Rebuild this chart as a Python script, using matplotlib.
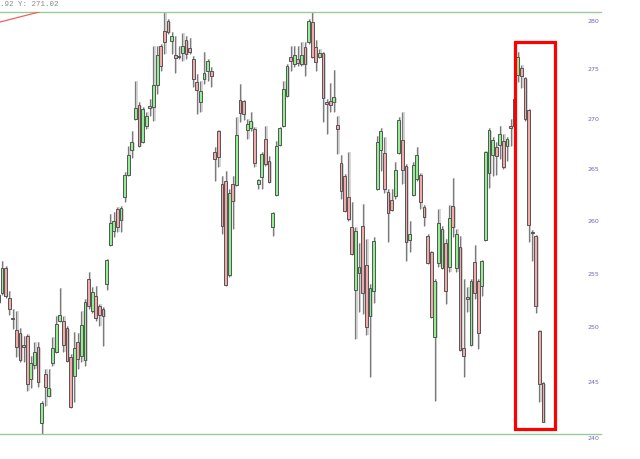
import matplotlib.pyplot as plt
from matplotlib.patches import Rectangle
from matplotlib.ticker import NullLocator
import matplotlib.transforms as mtransforms
import numpy as np

# daily OHLC, oldest first (first candle is cut off at the left edge)
opens = [252.28, 253.12, 255.47, 252.65, 250.79, 249.68, 249.40, 248.30, 249.13, 245.20,
         246.47, 248.11, 241.24, 245.66, 243.66, 246.66, 247.66, 250.52, 250.52, 249.86,
         247.20, 245.47, 248.57, 247.29, 246.93, 254.43, 251.44, 252.84, 251.91, 251.63,
         253.96, 257.65, 258.99, 261.10, 260.04, 262.26, 264.41, 266.86, 269.94, 271.34,
         267.65, 269.24, 271.04, 271.14, 273.35, 277.32, 278.86, 279.90, 277.83, 276.40,
         276.19, 276.60, 277.94, 277.11, 275.99, 273.66, 271.64, 273.96, 274.77, 274.77,
         266.66, 268.74, 263.53, 263.82, 254.81, 263.53, 263.43, 271.84, 271.74, 268.84,
         269.04, 268.94, 263.53, 264.21, 267.95, 265.78, 259.37, 262.46, 267.36, 269.24,
         272.24, 276.19, 275.48, 275.99, 275.48, 277.22, 277.73, 279.79, 277.22, 276.19,
         276.60, 271.64, 271.74, 271.64, 269.34, 265.58, 264.31, 262.26, 259.37, 253.40,
         255.00, 259.47, 255.75, 250.98, 253.30, 263.04, 266.86, 266.56, 262.75, 261.97,
         262.36, 266.56, 267.85, 265.29, 258.13, 262.46, 264.02, 264.41, 261.29, 258.51,
         256.98, 249.03, 255.94, 255.47, 257.84, 255.57, 261.39, 255.47, 257.46, 248.02,
         252.75, 248.30, 256.03, 254.24, 253.77, 258.13, 264.60, 266.37, 267.16, 267.36,
         267.75, 267.26, 269.24, 269.24, 274.36, 275.07, 274.06, 270.84, 258.89, 258.51,
         249.58, 244.84]
highs = [253.02, 256.13, 255.66, 253.30, 251.63, 251.44, 249.86, 249.13, 249.31, 247.29,
         248.57, 248.57, 243.21, 246.11, 246.11, 249.03, 250.98, 253.59, 250.98, 250.05,
         247.48, 249.49, 249.40, 251.44, 252.56, 255.10, 253.68, 253.77, 252.10, 251.82,
         256.32, 260.62, 260.81, 261.29, 261.39, 264.70, 267.26, 268.74, 273.76, 271.64,
         271.14, 270.64, 271.94, 277.32, 277.32, 277.52, 280.83, 280.10, 278.76, 278.35,
         277.32, 278.66, 278.35, 278.14, 276.30, 274.46, 273.76, 276.70, 275.99, 275.17,
         267.16, 268.84, 264.31, 264.80, 263.04, 264.31, 270.14, 273.45, 271.84, 269.94,
         270.64, 269.14, 264.02, 266.66, 269.24, 266.27, 260.81, 267.75, 269.14, 273.76,
         275.48, 277.32, 277.32, 277.32, 277.73, 277.73, 280.10, 280.83, 277.94, 277.01,
         276.70, 271.94, 273.55, 274.87, 270.24, 266.37, 264.50, 266.66, 261.78, 259.37,
         257.84, 261.59, 258.22, 253.96, 258.41, 268.25, 269.04, 268.15, 263.04, 263.04,
         265.68, 270.14, 270.64, 265.48, 259.95, 265.68, 267.16, 264.60, 261.49, 258.70,
         257.08, 254.43, 261.10, 259.47, 258.22, 261.49, 264.11, 259.18, 258.51, 254.43,
         253.68, 254.43, 257.65, 254.43, 256.22, 266.76, 269.04, 268.15, 267.65, 269.24,
         268.44, 268.15, 269.94, 272.04, 276.70, 275.38, 274.16, 270.94, 259.08, 258.60,
         249.68, 244.93]
lows = [252.10, 252.93, 252.65, 251.07, 249.77, 247.20, 246.75, 246.75, 244.11, 244.38,
        246.11, 244.47, 240.27, 242.76, 243.57, 246.38, 247.57, 250.42, 247.66, 246.75,
        242.58, 243.12, 246.11, 246.75, 246.38, 251.63, 251.26, 250.52, 250.05, 248.20,
        253.40, 257.55, 258.41, 258.89, 258.89, 261.78, 264.31, 266.07, 269.84, 267.16,
        267.55, 268.94, 270.24, 269.74, 272.44, 274.77, 276.50, 278.55, 276.50, 274.57,
        275.99, 275.78, 275.99, 276.50, 273.15, 270.44, 270.64, 273.45, 273.76, 273.15,
        263.82, 265.19, 258.70, 253.77, 254.62, 259.18, 263.33, 269.64, 269.84, 267.95,
        268.74, 265.19, 263.04, 263.04, 265.29, 263.63, 258.51, 262.36, 267.26, 269.14,
        272.14, 274.77, 275.17, 275.27, 275.27, 274.26, 277.52, 276.09, 274.77, 276.09,
        269.64, 268.44, 270.64, 270.64, 266.46, 262.07, 260.81, 259.95, 256.70, 248.85,
        251.35, 251.17, 249.21, 245.38, 252.19, 262.94, 264.80, 262.65, 257.94, 260.91,
        262.07, 266.46, 263.53, 256.13, 256.98, 262.36, 263.82, 261.10, 259.47, 255.85,
        250.79, 243.21, 255.57, 255.38, 252.10, 255.10, 258.41, 255.10, 247.75, 245.38,
        251.35, 248.20, 252.56, 247.93, 252.84, 258.03, 263.14, 264.31, 264.41, 265.97,
        264.99, 265.78, 267.26, 269.14, 273.66, 273.05, 269.74, 257.94, 256.13, 251.26,
        243.12, 241.33]
closes = [252.93, 255.47, 252.84, 251.63, 250.70, 248.11, 246.93, 248.11, 244.75, 246.66,
          247.66, 244.93, 243.03, 244.47, 244.38, 248.02, 250.24, 251.07, 248.30, 246.84,
          242.67, 248.02, 247.02, 250.14, 252.28, 251.91, 253.21, 250.79, 251.07, 250.98,
          256.22, 259.76, 259.95, 259.37, 261.20, 264.41, 266.37, 267.65, 271.04, 267.26,
          270.94, 270.24, 271.24, 273.35, 276.40, 275.27, 277.73, 278.76, 278.35, 276.09,
          276.30, 277.32, 276.50, 276.70, 273.96, 272.85, 272.75, 274.57, 275.78, 274.26,
          265.97, 266.17, 259.47, 253.86, 262.65, 261.88, 268.35, 270.54, 270.44, 269.44,
          269.74, 265.58, 263.92, 266.46, 265.48, 263.72, 260.72, 267.26, 269.04, 272.95,
          275.27, 275.78, 276.40, 275.58, 276.40, 275.48, 279.90, 276.19, 275.68, 276.60,
          272.04, 271.44, 271.34, 272.14, 268.94, 262.85, 260.91, 260.14, 256.79, 258.99,
          255.57, 253.12, 249.96, 253.59, 258.03, 267.65, 268.74, 263.04, 260.72, 261.00,
          264.89, 269.84, 264.89, 257.94, 258.70, 265.38, 266.37, 261.78, 260.33, 255.94,
          250.89, 254.24, 259.76, 259.18, 253.30, 260.24, 259.37, 258.70, 247.84, 247.29,
          252.56, 254.24, 253.12, 249.40, 256.13, 266.66, 268.84, 267.85, 266.27, 268.44,
          265.19, 267.95, 269.04, 271.94, 276.19, 274.26, 269.94, 259.56, 258.80, 251.91,
          244.75, 241.33]

price_ticks = [240, 245, 250, 255, 260, 265, 270, 275, 280]
cursor_text = ".92 Y: 271.02"
# hand-drawn trendline (two anchor points) and highlight box
trend_x = [0.0, 11.3]
trend_y = [279.75, 280.83]
box_x = [143.35, 154.3]
box_y = [240.7, 277.7]

opens = np.array(opens)
highs = np.array(highs)
lows = np.array(lows)
closes = np.array(closes)
idx = np.arange(len(opens))
up = closes >= opens

fig = plt.figure(figsize=(6.4, 4.6), dpi=100)
fig.patch.set_facecolor('white')
ax = fig.add_axes([0, 25 / 460, 601 / 640, 422 / 460])
ax.set_yscale('log')

w = 0.78
body_lo = np.minimum(opens, closes)
body_hi = np.maximum(opens, closes)
body_h = np.maximum(body_hi - body_lo, 0.06)

# soft drop shadow
ax.vlines(idx + 0.35, lows, highs, color='#d0d0d0', lw=1.2, zorder=1)
ax.bar(idx + 0.35, body_h, bottom=body_lo * 0.9996, width=w, color='#d4d4d4',
       edgecolor='none', zorder=1)

ax.vlines(idx, lows, highs, color='#7a7a7a', lw=0.9, zorder=2)
colors = np.where(up, '#8ff08f', '#f5a8a8')
ax.bar(idx, body_h, bottom=body_lo, width=w, color=colors,
       edgecolor='#555555', linewidth=0.7, zorder=3)

ax.plot(trend_x, trend_y, color='#f06060', lw=0.9, zorder=4)
ax.add_patch(Rectangle((box_x[0], box_y[0]), box_x[1] - box_x[0], box_y[1] - box_y[0],
                       fill=False, edgecolor='#ff0000', linewidth=2.3, zorder=5))

ax.set_xlim(1 - 2 / 3.607, 1 + 599 / 3.607)
ax.set_ylim(lows.min(), highs.max())

ax.yaxis.set_major_locator(NullLocator())
ax.yaxis.set_minor_locator(NullLocator())
ax.set_xticks([])
for s in ['left', 'right']:
    ax.spines[s].set_visible(False)
for s in ['top', 'bottom']:
    ax.spines[s].set_color('#99cc99')
    ax.spines[s].set_linewidth(1)

trans = mtransforms.blended_transform_factory(ax.transAxes, ax.transData)
for t in price_ticks:
    ax.text(593.5 / 601, t, str(t), transform=trans, ha='center', va='center',
            fontsize=4.5, color='#6a6ab8', clip_on=False)

fig.text(0.5 / 640, 1 - 4.5 / 460, cursor_text, ha='left', va='center',
         fontsize=5.4, color='#8a8a8a', family='Liberation Mono')

fig.savefig('out.png', dpi=100)
